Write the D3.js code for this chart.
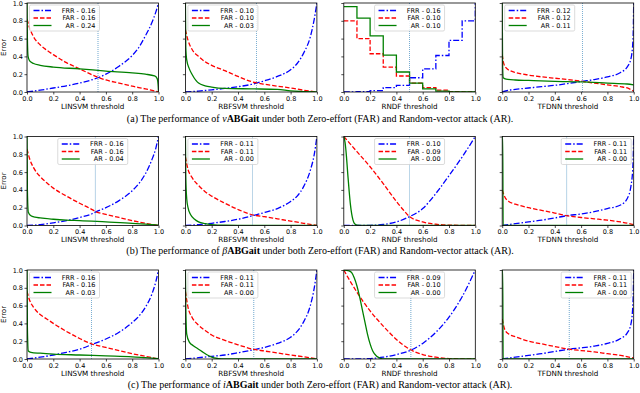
<!DOCTYPE html>
<html>
<head>
<meta charset="utf-8">
<script src="https://cdn.jsdelivr.net/npm/d3@7"></script>
<style>
  body { margin: 0; background: #fff; }
  svg { display: block; }
  text { font-family: "DejaVu Sans", sans-serif; fill: #000; }
  .cap { font-family: "Liberation Serif", "Times New Roman", serif; font-size: 10px; }
</style>
</head>
<body>
<svg id="chart" width="640" height="393"></svg>
<script>
const xTicks = [0, 0.2, 0.4, 0.6, 0.8, 1.0];
const yTicks = [0, 0.2, 0.4, 0.6, 0.8, 1.0];
const models = ["LINSVM", "RBFSVM", "RNDF", "TFDNN"];
const seriesNames = ["FRR", "FAR", "AR"];

// (a) vABGait
const aLinFrr = [[0,0],[0.1,0.02],[0.2,0.045],[0.3,0.07],[0.4,0.1],[0.5,0.14],[0.54,0.16],[0.6,0.2],[0.7,0.29],[0.8,0.41],[0.85,0.5],[0.9,0.63],[0.95,0.78],[0.98,0.9],[1,1]];
const aLinFar = [[0,0.82],[0.02,0.72],[0.05,0.62],[0.1,0.53],[0.15,0.47],[0.2,0.42],[0.3,0.33],[0.4,0.26],[0.5,0.19],[0.54,0.165],[0.6,0.135],[0.7,0.1],[0.8,0.065],[0.9,0.035],[1,0]];
const aLinAr = [[0,1],[0.003,0.6],[0.008,0.4],[0.02,0.35],[0.05,0.32],[0.1,0.3],[0.2,0.28],[0.4,0.26],[0.6,0.235],[0.8,0.215],[0.9,0.2],[0.97,0.18],[0.99,0.15],[0.998,0.06],[1,0]];
const aRbfFrr = [[0,0],[0.1,0.01],[0.2,0.025],[0.3,0.04],[0.4,0.06],[0.5,0.085],[0.54,0.1],[0.6,0.125],[0.7,0.175],[0.8,0.25],[0.85,0.32],[0.9,0.44],[0.95,0.62],[0.98,0.82],[1,1]];
const aRbfFar = [[0,0.7],[0.02,0.58],[0.05,0.48],[0.1,0.4],[0.15,0.34],[0.2,0.3],[0.3,0.24],[0.4,0.175],[0.5,0.118],[0.54,0.103],[0.6,0.088],[0.7,0.065],[0.8,0.045],[0.9,0.02],[1,0]];
const aRbfAr = [[0,1],[0.003,0.5],[0.01,0.36],[0.03,0.26],[0.05,0.2],[0.08,0.13],[0.1,0.1],[0.15,0.07],[0.2,0.055],[0.3,0.04],[0.5,0.035],[0.7,0.03],[0.8,0.012],[0.9,0.005],[1,0]];
const aRndfFrr = [[0,0],[0.1,0.005],[0.2,0.015],[0.3,0.05],[0.4,0.075],[0.5,0.16],[0.6,0.26],[0.7,0.41],[0.8,0.58],[0.9,0.8],[1,1]];
const aRndfFar = [[0,0.8],[0.1,0.6],[0.2,0.43],[0.3,0.28],[0.4,0.18],[0.5,0.1],[0.6,0.05],[0.7,0.02],[0.8,0.005],[0.9,0.002],[1,0]];
const aRndfAr = [[0,0.96],[0.1,0.83],[0.2,0.63],[0.3,0.415],[0.4,0.225],[0.5,0.1],[0.6,0.035],[0.7,0.01],[0.8,0],[1,0]];
const aTfFrr = [[0,0],[0.05,0.02],[0.1,0.03],[0.2,0.045],[0.3,0.06],[0.4,0.075],[0.5,0.095],[0.61,0.12],[0.7,0.14],[0.8,0.17],[0.9,0.22],[0.95,0.28],[0.98,0.38],[0.995,0.6],[1,1]];
const aTfFar = [[0,0.42],[0.01,0.33],[0.03,0.27],[0.06,0.24],[0.1,0.22],[0.2,0.19],[0.3,0.17],[0.4,0.155],[0.5,0.14],[0.61,0.12],[0.7,0.1],[0.8,0.08],[0.9,0.06],[0.96,0.04],[1,0.01]];
const aTfAr = [[0,1],[0.003,0.3],[0.008,0.16],[0.03,0.145],[0.1,0.135],[0.2,0.13],[0.4,0.12],[0.6,0.113],[0.8,0.1],[0.95,0.09],[1,0.08]];

// (b) betaABGait
const bLinFrr = [[0,0],[0.1,0.01],[0.2,0.03],[0.3,0.055],[0.4,0.09],[0.5,0.135],[0.52,0.15],[0.6,0.2],[0.7,0.28],[0.8,0.39],[0.85,0.47],[0.9,0.58],[0.95,0.74],[0.98,0.87],[1,1]];
const bLinFar = [[0,0.86],[0.02,0.75],[0.05,0.65],[0.1,0.55],[0.15,0.48],[0.2,0.42],[0.3,0.33],[0.4,0.25],[0.5,0.175],[0.52,0.158],[0.6,0.125],[0.7,0.09],[0.8,0.055],[0.9,0.025],[1,0]];
const bLinAr = [[0,1],[0.003,0.4],[0.01,0.15],[0.03,0.11],[0.06,0.095],[0.1,0.085],[0.2,0.07],[0.3,0.06],[0.4,0.055],[0.6,0.04],[0.8,0.025],[0.9,0.015],[1,0.005]];
const bRbfFrr = [[0,0],[0.1,0.01],[0.2,0.025],[0.3,0.045],[0.4,0.07],[0.51,0.11],[0.6,0.145],[0.7,0.19],[0.8,0.27],[0.85,0.33],[0.9,0.44],[0.95,0.62],[0.98,0.8],[1,1]];
const bRbfFar = [[0,0.77],[0.02,0.63],[0.05,0.54],[0.1,0.45],[0.15,0.38],[0.2,0.33],[0.3,0.25],[0.4,0.18],[0.51,0.12],[0.6,0.1],[0.7,0.075],[0.8,0.05],[0.9,0.025],[1,0]];
const bRbfAr = [[0,1],[0.003,0.55],[0.01,0.3],[0.02,0.2],[0.04,0.12],[0.07,0.07],[0.1,0.04],[0.15,0.02],[0.2,0.01],[0.3,0.003],[0.5,0],[1,0]];
const bRndfFrr = [[0,0],[0.1,0],[0.2,0.002],[0.3,0.012],[0.4,0.04],[0.5,0.1],[0.6,0.19],[0.7,0.36],[0.8,0.56],[0.9,0.77],[1,1]];
const bRndfFar = [[0,1],[0.1,0.83],[0.2,0.66],[0.3,0.47],[0.4,0.27],[0.45,0.18],[0.5,0.1],[0.6,0.04],[0.7,0.014],[0.8,0.004],[1,0]];
const bRndfAr = [[0,1],[0.01,0.93],[0.02,0.78],[0.03,0.58],[0.04,0.4],[0.05,0.24],[0.06,0.13],[0.07,0.06],[0.08,0.025],[0.1,0.005],[0.15,0],[1,0]];
const bTfFrr = [[0,0],[0.1,0.02],[0.2,0.04],[0.3,0.06],[0.4,0.085],[0.49,0.11],[0.6,0.13],[0.7,0.155],[0.8,0.19],[0.9,0.23],[0.95,0.3],[0.98,0.45],[0.995,0.7],[1,1]];
const bTfFar = [[0,0.4],[0.02,0.32],[0.05,0.27],[0.1,0.24],[0.2,0.2],[0.3,0.17],[0.4,0.14],[0.49,0.11],[0.6,0.09],[0.7,0.075],[0.8,0.06],[0.9,0.04],[1,0.01]];
const bTfAr = [[0,1],[0.004,1],[0.007,0],[1,0]];

// (c) iABGait
const cLinFrr = [[0,0],[0.1,0.02],[0.2,0.045],[0.3,0.075],[0.4,0.11],[0.49,0.16],[0.6,0.225],[0.7,0.3],[0.8,0.41],[0.85,0.48],[0.9,0.58],[0.95,0.73],[0.98,0.87],[1,1]];
const cLinFar = [[0,0.76],[0.02,0.66],[0.05,0.58],[0.1,0.5],[0.15,0.45],[0.2,0.4],[0.3,0.31],[0.4,0.23],[0.49,0.17],[0.6,0.13],[0.7,0.095],[0.8,0.06],[0.9,0.03],[1,0]];
const cLinAr = [[0,1],[0.003,0.35],[0.01,0.09],[0.03,0.075],[0.1,0.065],[0.2,0.055],[0.4,0.045],[0.6,0.035],[0.8,0.025],[0.9,0.015],[1,0.005]];
const cRbfFrr = [[0,0],[0.1,0.015],[0.2,0.03],[0.3,0.045],[0.4,0.07],[0.52,0.105],[0.6,0.13],[0.7,0.175],[0.8,0.245],[0.85,0.31],[0.9,0.42],[0.95,0.6],[0.98,0.8],[1,1]];
const cRbfFar = [[0,0.76],[0.02,0.58],[0.05,0.47],[0.1,0.38],[0.15,0.32],[0.2,0.27],[0.3,0.21],[0.4,0.16],[0.52,0.108],[0.6,0.09],[0.7,0.068],[0.8,0.045],[0.9,0.025],[1,0]];
const cRbfAr = [[0,1],[0.003,0.6],[0.01,0.28],[0.03,0.19],[0.06,0.15],[0.1,0.11],[0.13,0.08],[0.16,0.05],[0.2,0.02],[0.25,0.005],[0.3,0],[1,0]];
const cRndfFrr = [[0,0],[0.1,0],[0.15,0.001],[0.2,0.005],[0.3,0.02],[0.4,0.05],[0.51,0.1],[0.6,0.175],[0.7,0.3],[0.8,0.47],[0.9,0.7],[1,1]];
const cRndfFar = [[0,1],[0.05,0.87],[0.1,0.75],[0.15,0.64],[0.2,0.54],[0.3,0.37],[0.4,0.22],[0.5,0.11],[0.6,0.05],[0.7,0.02],[0.8,0.005],[0.9,0.001],[1,0]];
const cRndfAr = [[0,1],[0.04,0.99],[0.06,0.97],[0.08,0.91],[0.1,0.82],[0.12,0.7],[0.14,0.56],[0.16,0.42],[0.18,0.28],[0.2,0.17],[0.22,0.09],[0.25,0.03],[0.28,0.008],[0.3,0],[1,0]];
const cTfFrr = [[0,0],[0.1,0.02],[0.2,0.04],[0.3,0.06],[0.4,0.085],[0.51,0.11],[0.6,0.125],[0.7,0.145],[0.8,0.175],[0.9,0.23],[0.95,0.29],[0.98,0.4],[0.995,0.65],[1,1]];
const cTfFar = [[0,0.45],[0.02,0.33],[0.05,0.28],[0.1,0.25],[0.2,0.2],[0.3,0.17],[0.4,0.14],[0.51,0.11],[0.6,0.095],[0.7,0.08],[0.8,0.06],[0.9,0.04],[1,0.01]];
const cTfAr = [[0,1],[0.004,1],[0.007,0],[1,0]];

// chosen thresholds and the error values shown in the legends
const thrA = [0.54, 0.54, 0.50, 0.61];
const thrB = [0.52, 0.51, 0.50, 0.49];
const thrC = [0.49, 0.52, 0.51, 0.51];
const valsA = [["0.16","0.16","0.24"], ["0.10","0.10","0.03"], ["0.16","0.10","0.10"], ["0.12","0.12","0.11"]];
const valsB = [["0.16","0.16","0.04"], ["0.11","0.11","0.00"], ["0.10","0.09","0.00"], ["0.11","0.11","0.00"]];
const valsC = [["0.16","0.16","0.03"], ["0.11","0.11","0.00"], ["0.09","0.10","0.00"], ["0.11","0.11","0.00"]];
const captionA = ["(a) The performance of ", "v", "ABGait", " under both Zero-effort (FAR) and Random-vector attack (AR)."];
const captionB = ["(b) The performance of ", "\u03B2", "ABGait", " under both Zero-effort (FAR) and Random-vector attack (AR)."];
const captionC = ["(c) The performance of ", "i", "ABGait", " under both Zero-effort (FAR) and Random-vector attack (AR)."];

const rows = [
  { series: [[aLinFrr, aLinFar, aLinAr], [aRbfFrr, aRbfFar, aRbfAr], [aRndfFrr, aRndfFar, aRndfAr], [aTfFrr, aTfFar, aTfAr]], thr: thrA, vals: valsA, caption: captionA },
  { series: [[bLinFrr, bLinFar, bLinAr], [bRbfFrr, bRbfFar, bRbfAr], [bRndfFrr, bRndfFar, bRndfAr], [bTfFrr, bTfFar, bTfAr]], thr: thrB, vals: valsB, caption: captionB },
  { series: [[cLinFrr, cLinFar, cLinAr], [cRbfFrr, cRbfFar, cRbfAr], [cRndfFrr, cRndfFar, cRndfAr], [cTfFrr, cTfFar, cTfAr]], thr: thrC, vals: valsC, caption: captionC }
];

// layout / style
const legendLoc = [["left", "left", "center", "left"], ["center", "left", "center", "right"], ["left", "left", "center", "right"]];
const stepped = [[false, false, true, false], [false, false, false, false], [false, false, false, false]];
const colX = [27, 185.4, 343.8, 502.2];
const rowY = [3, 136.5, 270];
const pw = 131.5, ph = 89;
const capY = [121.5, 253.5, 387.5];
const colors = ["#0000ff", "#ff0000", "#008000"];
const dashes = ["6,2,1.5,2", "4.5,2", null];

const svg = d3.select("#chart");

rows.forEach((row, r) => {
  row.series.forEach((ser, c) => {
    const x = d3.scaleLinear().domain([0, 1]).range([colX[c], colX[c] + pw]);
    const y = d3.scaleLinear().domain([0, 1]).range([rowY[r] + ph, rowY[r]]);
    const g = svg.append("g");
    const clipId = `clip-${r}-${c}`;
    g.append("clipPath").attr("id", clipId)
      .append("rect")
      .attr("x", colX[c]).attr("y", rowY[r]).attr("width", pw).attr("height", ph);

    const line = d3.line()
      .x(d => x(d[0]))
      .y(d => y(d[1]))
      .curve(stepped[r][c] ? d3.curveStepAfter : d3.curveMonotoneX);

    const plot = g.append("g").attr("clip-path", `url(#${clipId})`);
    ser.forEach((pts, i) => {
      plot.append("path")
        .attr("d", line(pts))
        .attr("fill", "none")
        .attr("stroke", colors[i])
        .attr("stroke-width", 1.3)
        .attr("stroke-dasharray", dashes[i]);
    });
    plot.append("line")
      .attr("x1", x(row.thr[c])).attr("x2", x(row.thr[c]))
      .attr("y1", y(0)).attr("y2", y(1))
      .attr("stroke", "#1f77b4").attr("stroke-width", 0.8)
      .attr("stroke-dasharray", "1,1").attr("opacity", 0.8);

    // axes
    const xAxis = d3.axisBottom(x).tickValues(xTicks).tickSize(2.5).tickPadding(1.5).tickFormat(d3.format(".1f"));
    const gx = g.append("g").attr("transform", `translate(0,${rowY[r] + ph})`).call(xAxis);
    gx.select(".domain").remove();
    gx.selectAll("text").attr("font-size", 6.5).attr("font-family", "DejaVu Sans");
    gx.selectAll("line").attr("stroke-width", 0.7);

    const yAxis = d3.axisLeft(y).tickValues(yTicks).tickSize(2.5).tickPadding(1.5)
      .tickFormat(c === 0 ? d3.format(".1f") : () => "");
    const gy = g.append("g").attr("transform", `translate(${colX[c]},0)`).call(yAxis);
    gy.select(".domain").remove();
    gy.selectAll("text").attr("font-size", 6.5).attr("font-family", "DejaVu Sans");
    gy.selectAll("line").attr("stroke-width", 0.7);

    g.append("rect")
      .attr("x", colX[c]).attr("y", rowY[r]).attr("width", pw).attr("height", ph)
      .attr("fill", "none").attr("stroke", "#000").attr("stroke-width", 0.8);

    g.append("text")
      .attr("x", colX[c] + pw / 2).attr("y", rowY[r] + ph + 16.5)
      .attr("text-anchor", "middle").attr("font-size", 7.2)
      .text(models[c] + " threshold");

    if (c === 0) {
      g.append("text")
        .attr("transform", `translate(6,${rowY[r] + ph / 2}) rotate(-90)`)
        .attr("text-anchor", "middle").attr("font-size", 7)
        .text("Error");
    }

    // legend
    const lw = 70, lh = 26;
    const loc = legendLoc[r][c];
    const bx = loc === "left" ? colX[c] + 2.5 : loc === "right" ? colX[c] + pw - 2.5 - lw : colX[c] + pw / 2 - lw / 2;
    const by = rowY[r] + 2;
    const lg = g.append("g");
    lg.append("rect").attr("x", bx).attr("y", by).attr("width", lw).attr("height", lh)
      .attr("rx", 1.5).attr("fill", "#fff").attr("fill-opacity", 0.85)
      .attr("stroke", "#cccccc").attr("stroke-width", 0.7);
    seriesNames.forEach((name, i) => {
      const ly = by + 5.5 + i * 7.5;
      lg.append("line")
        .attr("x1", bx + 4).attr("x2", bx + 22).attr("y1", ly).attr("y2", ly)
        .attr("stroke", colors[i]).attr("stroke-width", 1.3)
        .attr("stroke-dasharray", dashes[i]);
      lg.append("text")
        .attr("x", bx + lw - 4).attr("y", ly + 2.3)
        .attr("text-anchor", "end").attr("font-size", 6.5)
        .text(`${name} - ${row.vals[c][i]}`);
    });
  });

  const cap = svg.append("text").attr("class", "cap")
    .attr("x", 320).attr("y", capY[r]).attr("text-anchor", "middle");
  cap.append("tspan").text(row.caption[0]);
  cap.append("tspan").attr("font-style", "italic").text(row.caption[1]);
  cap.append("tspan").attr("font-weight", "bold").text(row.caption[2]);
  cap.append("tspan").text(row.caption[3]);
});
</script>
</body>
</html>
